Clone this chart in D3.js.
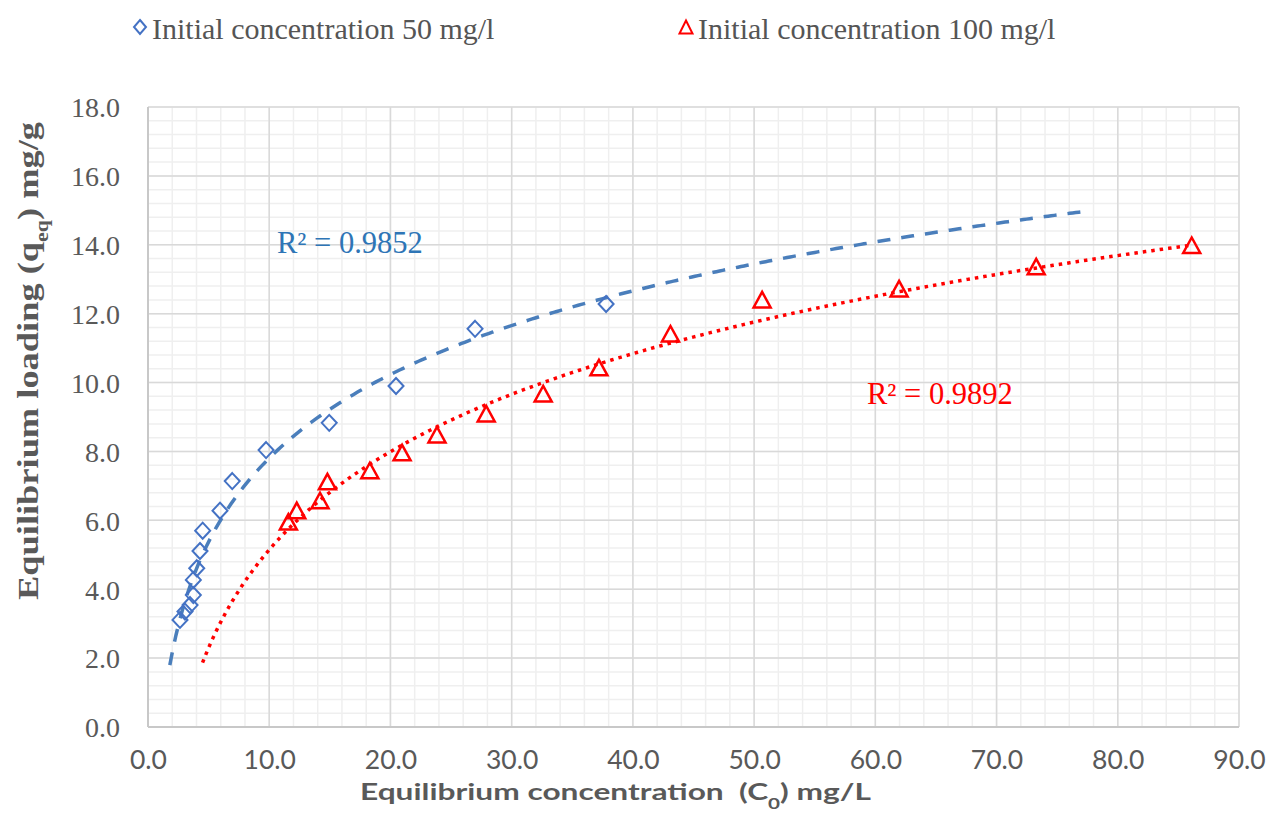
<!DOCTYPE html>
<html>
<head>
<meta charset="utf-8">
<script src="https://cdn.jsdelivr.net/npm/d3@7"></script>
<style>
  body { margin: 0; background: #fff; }
  svg { display: block; }
  .serif { font-family: "Liberation Serif", "DejaVu Serif", serif; }
  .sans { font-family: Lato, "Open Sans", sans-serif; }
</style>
</head>
<body>
<div id="chart"></div>
<script>
// Equilibrium isotherm data, C0 (mg/L) vs q_eq (mg/g)
var series50X = [2.64, 3.05, 3.47, 3.74, 3.74, 4.02, 4.29, 4.51, 5.94, 6.95, 9.74, 14.95, 20.46, 26.98, 37.79];
var series50Y = [3.11, 3.35, 3.54, 3.83, 4.27, 4.61, 5.11, 5.70, 6.28, 7.14, 8.04, 8.83, 9.90, 11.56, 12.28];

var series100X = [11.58, 12.27, 14.19, 14.80, 18.30, 20.96, 23.84, 27.90, 32.60, 37.20, 43.10, 50.66, 61.96, 73.27, 86.10];
var series100Y = [5.92, 6.25, 6.54, 7.09, 7.41, 7.93, 8.45, 9.06, 9.64, 10.40, 11.38, 12.37, 12.69, 13.33, 13.95];

// trendline extents (with forecast) and the reported R² values
var trend50Range = [1.8, 77.8];
var trend100Range = [4.5, 86.1];
var r2Labels = ["R² = 0.9852", "R² = 0.9892"];
var legendLabels = ["Initial concentration 50 mg/l", "Initial concentration 100 mg/l"];

var xTicks = d3.range(0, 91, 10);
var yTicks = d3.range(0, 18.1, 2);

var width = 1277, height = 816;
var svg = d3.select("#chart").append("svg")
    .attr("width", width)
    .attr("height", height);

var x = d3.scaleLinear().domain([0, 90]).range([148, 1239]);
var y = d3.scaleLinear().domain([0, 18]).range([727, 107]);

// minor grid
var g = svg.append("g");
g.selectAll(".minor-x")
    .data(d3.range(0, 90.1, 2))
    .enter().append("line")
    .attr("x1", function(d) { return x(d); })
    .attr("x2", function(d) { return x(d); })
    .attr("y1", y(0)).attr("y2", y(18))
    .attr("stroke", "#efefef").attr("stroke-width", 1.5);
g.selectAll(".minor-y")
    .data(d3.range(0, 18.01, 0.4))
    .enter().append("line")
    .attr("y1", function(d) { return y(d); })
    .attr("y2", function(d) { return y(d); })
    .attr("x1", x(0)).attr("x2", x(90))
    .attr("stroke", "#efefef").attr("stroke-width", 1.5);

// major grid
g.selectAll(".major-x")
    .data(xTicks)
    .enter().append("line")
    .attr("x1", function(d) { return x(d); })
    .attr("x2", function(d) { return x(d); })
    .attr("y1", y(0)).attr("y2", y(18))
    .attr("stroke", "#d9d9d9").attr("stroke-width", 1.5);
g.selectAll(".major-y")
    .data(yTicks)
    .enter().append("line")
    .attr("y1", function(d) { return y(d); })
    .attr("y2", function(d) { return y(d); })
    .attr("x1", x(0)).attr("x2", x(90))
    .attr("stroke", "#d9d9d9").attr("stroke-width", 1.5);

// axes: only the labels, the grid draws the frame
var xAxis = svg.append("g")
    .attr("transform", "translate(0," + y(0) + ")")
    .call(d3.axisBottom(x).tickValues(xTicks).tickSize(0).tickPadding(42)
        .tickFormat(d3.format(".1f")));
xAxis.attr("font-family", null).attr("font-size", null);
xAxis.select(".domain").attr("stroke", "#c8c8c8").attr("stroke-width", 2).attr("d", "M" + x(0) + ",0H" + x(90));
xAxis.selectAll("text")
    .attr("dy", 0)
    .attr("class", "sans")
    .style("font-size", "26.5px")
    .attr("fill", "#595959");

var yAxis = svg.append("g")
    .attr("transform", "translate(" + x(0) + ",0)")
    .call(d3.axisLeft(y).tickValues(yTicks).tickSize(0).tickPadding(28)
        .tickFormat(d3.format(".1f")));
yAxis.attr("font-family", null).attr("font-size", null);
yAxis.select(".domain").attr("stroke", "#c8c8c8").attr("stroke-width", 2).attr("d", "M0," + y(0) + "V" + y(18));
yAxis.selectAll("text")
    .attr("dy", "0.35em")
    .attr("class", "serif")
    .style("font-size", "28px")
    .attr("fill", "#595959");

// axis titles
svg.append("text")
    .attr("class", "sans")
    .attr("x", 360).attr("y", 800)
    .attr("textLength", 511)
    .attr("lengthAdjust", "spacingAndGlyphs")
    .style("font-weight", "bold")
    .style("font-size", "23px")
    .attr("fill", "#595959")
    .html("Equilibrium concentration&#160;&#160;(C<tspan baseline-shift='sub' font-size='15px'>0</tspan>) mg/L");

svg.append("text")
    .attr("class", "serif")
    .attr("transform", "translate(38,600) rotate(-90)")
    .attr("textLength", 478)
    .attr("lengthAdjust", "spacingAndGlyphs")
    .style("font-weight", "bold")
    .style("font-size", "30px")
    .attr("fill", "#595959")
    .html("Equilibrium loading (q<tspan baseline-shift='sub' font-size='18px'>eq</tspan>) mg/g");

// logarithmic least-squares fit y = a ln(x) + b
function logFit(xs, ys) {
    var lx = xs.map(Math.log);
    var mx = d3.mean(lx), my = d3.mean(ys);
    var sxy = d3.sum(lx, function(v, i) { return (v - mx) * (ys[i] - my); });
    var sxx = d3.sum(lx, function(v) { return (v - mx) * (v - mx); });
    var a = sxy / sxx;
    return { a: a, b: my - a * mx };
}

function trendPoints(fit, range) {
    var step = (range[1] - range[0]) / 300;
    return d3.range(range[0], range[1] + step / 2, step).map(function(v) {
        return [v, fit.a * Math.log(v) + fit.b];
    });
}

var line = d3.line()
    .x(function(d) { return x(d[0]); })
    .y(function(d) { return y(d[1]); });

var fit50 = logFit(series50X, series50Y);
var fit100 = logFit(series100X, series100Y);

svg.append("path")
    .datum(trendPoints(fit50, trend50Range))
    .attr("d", line)
    .attr("fill", "none")
    .attr("stroke", "#4a7ebb")
    .attr("stroke-width", 3.5)
    .attr("stroke-dasharray", "13,11");

svg.append("path")
    .datum(trendPoints(fit100, trend100Range))
    .attr("d", line)
    .attr("fill", "none")
    .attr("stroke", "#ff0000")
    .attr("stroke-width", 3.5)
    .attr("stroke-dasharray", "3.5,5");

// markers
var diamond = "M0,-8L7.5,0L0,8L-7.5,0Z";
var triangle = "M0,-9L8.5,6.5L-8.5,6.5Z";

svg.selectAll(".pt50")
    .data(series50X)
    .enter().append("path")
    .attr("d", diamond)
    .attr("transform", function(d, i) { return "translate(" + x(d) + "," + y(series50Y[i]) + ")"; })
    .attr("fill", "none")
    .attr("stroke", "#4472c4")
    .attr("stroke-width", 2);

svg.selectAll(".pt100")
    .data(series100X)
    .enter().append("path")
    .attr("d", triangle)
    .attr("transform", function(d, i) { return "translate(" + x(d) + "," + y(series100Y[i]) + ")"; })
    .attr("fill", "none")
    .attr("stroke", "#ff0000")
    .attr("stroke-width", 2.5);

// R² labels
svg.append("text")
    .attr("class", "serif")
    .attr("x", 277).attr("y", 253)
    .style("font-size", "30.5px")
    .attr("fill", "#2e75b6")
    .text(r2Labels[0]);
svg.append("text")
    .attr("class", "serif")
    .attr("x", 867).attr("y", 404)
    .style("font-size", "30.5px")
    .attr("fill", "#ff0000")
    .text(r2Labels[1]);

// legend
var legend = svg.append("g");
legend.append("path")
    .attr("d", "M0,-7L6,0L0,7L-6,0Z")
    .attr("transform", "translate(140,27)")
    .attr("fill", "none").attr("stroke", "#4472c4").attr("stroke-width", 2);
legend.append("text")
    .attr("class", "serif")
    .attr("x", 152).attr("y", 39)
    .style("font-size", "30px")
    .attr("fill", "#555555")
    .text(legendLabels[0]);
legend.append("path")
    .attr("d", "M0,-7.5L6.5,5.5L-6.5,5.5Z")
    .attr("transform", "translate(686,28)")
    .attr("fill", "none").attr("stroke", "#ff0000").attr("stroke-width", 2);
legend.append("text")
    .attr("class", "serif")
    .attr("x", 698).attr("y", 39)
    .style("font-size", "30px")
    .attr("fill", "#555555")
    .text(legendLabels[1]);
</script>
</body>
</html>
